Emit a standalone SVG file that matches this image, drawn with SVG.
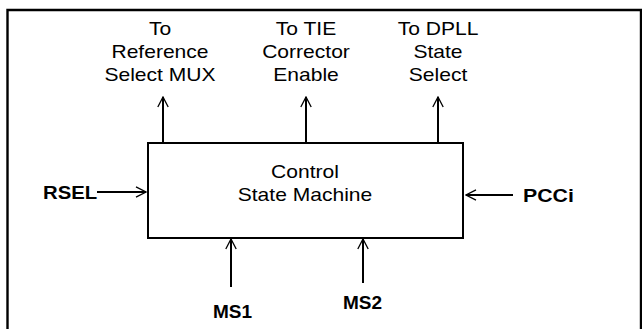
<svg xmlns="http://www.w3.org/2000/svg" width="642" height="329" viewBox="0 0 642 329">
<style>
.t{font-family:"Liberation Sans",Arial,sans-serif;font-size:18px;fill:#000;text-anchor:middle}
.b{font-family:"Liberation Sans",Arial,sans-serif;font-size:19px;font-weight:bold;fill:#000}
.ln{stroke:#000;stroke-width:2;fill:none}
</style>
<defs>
<marker id="ah" viewBox="0 0 12 12" refX="11" refY="6" markerWidth="12" markerHeight="12" markerUnits="userSpaceOnUse" orient="auto">
<path d="M1,0.8 L11,6 L1,11.2" fill="none" stroke="#000" stroke-width="1.3"/>
</marker>
</defs>
<rect width="642" height="329" fill="#fff"/>
<g id="frame">
<path d="M7.5,329 V10 H641 V329" fill="none" stroke="#000" stroke-width="2.4"/>
</g>
<g id="csm">
<rect x="148" y="143" width="315" height="95" class="ln" fill="#fff"/>
<text class="t" transform="translate(305 178) scale(1.17 1)">Control</text>
<text class="t" transform="translate(305 201) scale(1.17 1)">State Machine</text>
</g>
<g id="out-ref">
<text class="t" transform="translate(160 35) scale(1.17 1)">To</text>
<text class="t" transform="translate(160 58) scale(1.17 1)">Reference</text>
<text class="t" transform="translate(160 81) scale(1.17 1)">Select MUX</text>
</g>
<g id="out-tie">
<text class="t" transform="translate(306 35) scale(1.17 1)">To TIE</text>
<text class="t" transform="translate(306 58) scale(1.17 1)">Corrector</text>
<text class="t" transform="translate(306 81) scale(1.17 1)">Enable</text>
</g>
<g id="out-dpll">
<text class="t" transform="translate(438 35) scale(1.17 1)">To DPLL</text>
<text class="t" transform="translate(438 58) scale(1.17 1)">State</text>
<text class="t" transform="translate(438 81) scale(1.17 1)">Select</text>
</g>
<g id="rsel"><text class="b" transform="translate(43 199) scale(1.07 1)">RSEL</text></g>
<g id="pcci"><text class="b" transform="translate(523 202) scale(1.12 1)">PCCi</text></g>
<g id="ms1"><text class="b" x="213" y="318">MS1</text></g>
<g id="ms2"><text class="b" x="343" y="309">MS2</text></g>
<g id="connectors" class="ln">
<line x1="163" y1="143" x2="163" y2="97" marker-end="url(#ah)"/>
<line x1="306" y1="143" x2="306" y2="97" marker-end="url(#ah)"/>
<line x1="438" y1="143" x2="438" y2="97" marker-end="url(#ah)"/>
<line x1="97" y1="192" x2="146" y2="192" marker-end="url(#ah)"/>
<line x1="513" y1="195" x2="466" y2="195" marker-end="url(#ah)"/>
<line x1="231" y1="287" x2="231" y2="239" marker-end="url(#ah)"/>
<line x1="363" y1="283" x2="363" y2="239" marker-end="url(#ah)"/>
</g>
</svg>
